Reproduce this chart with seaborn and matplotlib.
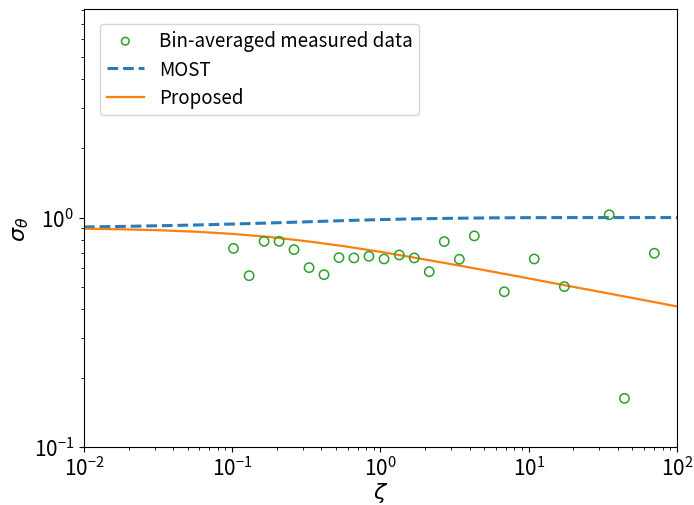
import numpy as np
import pandas as pd
import matplotlib
matplotlib.use("Agg")
import matplotlib.pyplot as plt
import seaborn as sns

# Bin-averaged measurements
zeta_meas = [0.102, 0.130, 0.164, 0.207, 0.261, 0.330, 0.416, 0.525, 0.662, 0.836,
             1.057, 1.340, 1.690, 2.133, 2.692, 3.404, 4.295, 6.84, 10.89, 17.38,
             34.9, 44.2, 70.3]
sigma_meas = [0.734, 0.558, 0.788, 0.788, 0.725, 0.605, 0.564, 0.669, 0.667, 0.678,
              0.660, 0.687, 0.667, 0.581, 0.786, 0.658, 0.832, 0.475, 0.660, 0.500,
              1.028, 0.163, 0.699]

# Model curves sampled at quarter-decade spacing
zeta_curve = [0.01, 0.01778, 0.03162, 0.05623, 0.1, 0.1778, 0.3162, 0.5623, 1.0,
              1.778, 3.162, 5.623, 10.0, 17.78, 31.62, 56.23, 100.0]
sigma_most = [0.910, 0.915, 0.921, 0.928, 0.937, 0.947, 0.958, 0.970, 0.980,
              0.988, 0.993, 0.997, 0.999, 1.000, 1.000, 1.000, 1.000]
sigma_prop = [0.894, 0.889, 0.881, 0.868, 0.849, 0.823, 0.789, 0.751, 0.709,
              0.665, 0.623, 0.582, 0.543, 0.506, 0.472, 0.440, 0.410]

plt.rcParams["font.family"] = ["Noto Sans CJK SC", "DejaVu Sans"]
plt.rcParams["mathtext.fontset"] = "dejavusans"

fig = plt.figure(figsize=(6.94, 5.06), dpi=100)
ax = fig.add_axes([0.121, 0.1146, 0.8545, 0.8654])

meas = pd.DataFrame({"zeta": zeta_meas, "sigma": sigma_meas})
curves = pd.DataFrame({"zeta": zeta_curve, "most": sigma_most, "prop": sigma_prop})

sns.scatterplot(data=meas, x="zeta", y="sigma", ax=ax, marker="o", s=45,
                facecolors="none", edgecolor="#2ca02c", linewidth=1.1,
                label="Bin-averaged measured data", zorder=3)
sns.lineplot(data=curves, x="zeta", y="most", ax=ax, color="#2a7ab9",
             linewidth=2.2, linestyle=(0, (3.5, 1.6)), label="MOST")
sns.lineplot(data=curves, x="zeta", y="prop", ax=ax, color="#ff7f0e",
             linewidth=1.6, label="Proposed")

ax.set_xscale("log")
ax.set_yscale("log")
ax.set_xlim(1e-2, 1e2)
ax.set_ylim(0.1, 8.1)

ax.tick_params(axis="both", which="major", labelsize=15)

ax.set_xlabel(r"$\zeta$", fontsize=16, labelpad=0)
ax.set_ylabel(r"$\sigma_\theta$", fontsize=16, labelpad=2)

leg = ax.legend(loc="upper left", bbox_to_anchor=(0.027, 0.967), borderaxespad=0,
                fontsize=13.5, handlelength=2.0, labelspacing=0.4,
                borderpad=0.35, frameon=True)
for h in leg.legend_handles[:1]:
    h.set_sizes([30])

fig.savefig("out.png", dpi=100)
